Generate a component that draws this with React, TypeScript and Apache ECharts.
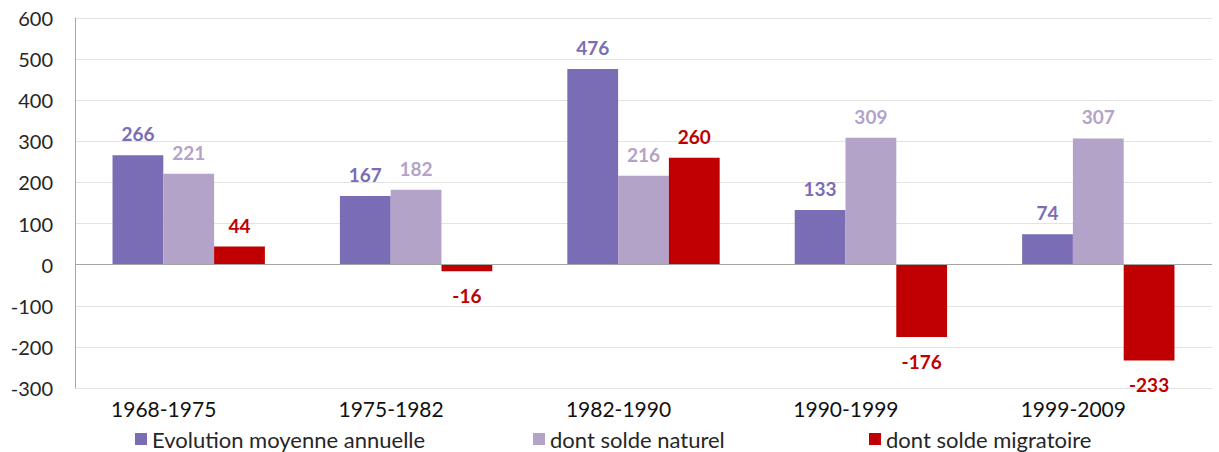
import React, { useEffect, useRef } from "react";
import * as echarts from "echarts";

const categories = ["1968-1975", "1975-1982", "1982-1990", "1990-1999", "1999-2009"];
const seriesNames = ["Evolution moyenne annuelle", "dont solde naturel", "dont solde migratoire"];
const evolution = [266, 167, 476, 133, 74];
const naturel = [221, 182, 216, 309, 307];
const migratoire = [44, -16, 260, -176, -233];
const yTicks = { min: -300, max: 600, interval: 100 };

const colors = ["#7b6db5", "#b3a3c8", "#c00000"];
const FONT = "Lato";

export default function App() {
  const ref = useRef<HTMLDivElement>(null);
  useEffect(() => {
    if (!ref.current) return;
    const chart = echarts.init(ref.current, null, { renderer: "svg" });
    const mkData = (vals: number[]) =>
      vals.map((v) => ({
        value: v,
        label: { position: v < 0 ? "bottom" : "top", distance: v < 0 ? 15 : 12 },
      }));
    const mkSeries = (name: string, vals: number[], color: string, extra: any = {}) => ({
      name,
      type: "bar",
      data: mkData(vals),
      barGap: "0%",
      barCategoryGap: "33%",
      itemStyle: { color },
      label: {
        show: true,
        color,
        fontFamily: FONT,
        fontWeight: "bold",
        fontSize: 19,
      },
      ...extra,
    });
    const legendBase = {
      top: 428,
      padding: 0,
      itemWidth: 12,
      itemHeight: 12,
      itemGap: 5,
      icon: "rect",
      textStyle: { fontFamily: FONT, fontSize: 22, lineHeight: 20, color: "#262626" },
    };
    chart.setOption({
      animation: false,
      color: colors,
      grid: { left: 75, right: 7, top: 18, bottom: 64, containLabel: false },
      legend: [
        { ...legendBase, left: 135, data: [seriesNames[0]] },
        { ...legendBase, left: 533, data: [seriesNames[1]] },
        { ...legendBase, left: 869, data: [seriesNames[2]] },
      ],
      xAxis: {
        type: "category",
        data: categories,
        axisLine: { show: false, onZero: false },
        axisTick: { show: false },
        axisLabel: {
          color: "#111",
          fontFamily: FONT,
          fontSize: 21,
          margin: 10,
          padding: [0, 50, 0, 0],
        },
      },
      yAxis: {
        type: "value",
        min: yTicks.min,
        max: yTicks.max,
        interval: yTicks.interval,
        axisLine: { show: true, lineStyle: { color: "#a6a6a6" } },
        axisTick: { show: false },
        splitLine: { lineStyle: { color: "#e3e3e3" } },
        axisLabel: { color: "#262626", fontFamily: FONT, fontSize: 20, margin: 22 },
      },
      series: [
        mkSeries(seriesNames[0], evolution, colors[0], {
          markLine: {
            silent: true,
            symbol: "none",
            label: { show: false },
            lineStyle: { color: "#a6a6a6", type: "solid", width: 1 },
            data: [{ yAxis: 0 }],
          },
        }),
        mkSeries(seriesNames[1], naturel, colors[1]),
        mkSeries(seriesNames[2], migratoire, colors[2]),
      ],
    });
    return () => chart.dispose();
  }, []);
  return (
    <div
      ref={ref}
      style={{ position: "fixed", left: 0, top: 0, width: 1219, height: 452, background: "#fff" }}
    />
  );
}
